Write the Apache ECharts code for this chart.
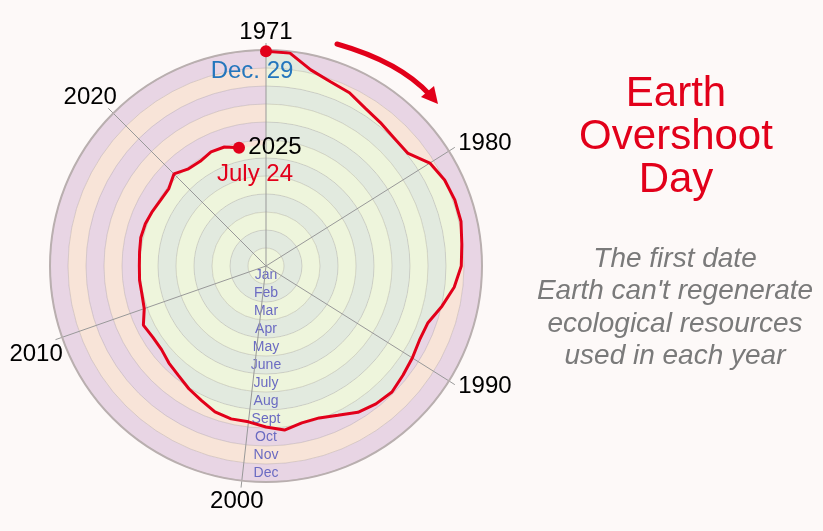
<!DOCTYPE html>
<html>
<head>
<meta charset="utf-8">
<script src="https://cdn.jsdelivr.net/npm/echarts@6/dist/echarts.min.js"></script>
<style>
html,body{margin:0;padding:0;background:#fdf9f8;}
#c{width:823px;height:531px;}
</style>
</head>
<body>
<div id="c"></div>
<script>
// ---- data ----
const years = [1971,1972,1973,1974,1975,1976,1977,1978,1979,1980,
  1981,1982,1983,1984,1985,1986,1987,1988,1989,1990,
  1991,1992,1993,1994,1995,1996,1997,1998,1999,2000,
  2001,2002,2003,2004,2005,2006,2007,2008,2009,2010,
  2011,2012,2013,2014,2015,2016,2017,2018,2019,2020,
  2021,2022,2023,2024,2025];
// overshoot day, as day of the year (1..365)
const overshootDay = [363,362,340,330,325,315,310,306,306,327,
  335,338,338,333,330,320,305,290,288,292,
  296,301,298,292,280,272,272,279,272,265,
  265,261,252,245,237,232,226,226,230,218,
  215,215,214,215,217,216,213,210,210,220,
  210,209,214,213,205];
const months = ['Jan','Feb','Mar','Apr','May','June','July','Aug','Sept','Oct','Nov','Dec'];
const yearTicks = [1971,1980,1990,2000,2010,2020];
const firstLabel = 'Dec. 29';
const lastLabel = 'July 24';
const yearEnd = 365;
const angleEnd = 2027;

// ---- layout / style ----
const CX = 266, CY = 266, R = 216;
const FONT = "'Liberation Sans', Arial, Helvetica, sans-serif";
const RED = '#e2001a';
const inA = '#eef5dc', inB = '#e2eadf';   // inside rings
const outA = '#f8e4d8', outB = '#e8d5e4'; // outside rings
// offsets of the year labels from the rim (pixels)
const yearLabelOffset = {1971: [0, -18], 1980: [36, -8], 1990: [36, 5.5], 2000: [-5, 21],
  2010: [-26, 17], 2020: [-23, -16]};

const stops = [];
for (let k = 0; k < 12; k++) {
  const c = k % 2 === 0 ? inA : inB;
  stops.push({offset: k / 12 + (k ? 0.0005 : 0), color: c});
  stops.push({offset: (k + 1) / 12, color: c});
}
const innerFill = {type: 'radial', x: CX, y: CY, r: R, colorStops: stops, global: true};

const lineData = years.map((y, i) => [overshootDay[i], y]);
const areaData = lineData.concat([[overshootDay[overshootDay.length - 1], angleEnd]]);
const n = years.length - 1;

const chart = echarts.init(document.getElementById('c'), null, {renderer: 'canvas'});
chart.setOption({
  backgroundColor: '#fdf9f8',
  animation: false,
  polar: [
    {center: [CX, CY], radius: R},
    {center: [CX, CY], radius: R}
  ],
  angleAxis: [
    {
      polarIndex: 0, type: 'value', min: years[0], max: angleEnd,
      startAngle: 90, clockwise: true, z: 5,
      axisLine: {show: true, lineStyle: {color: '#b9afaf', width: 2}},
      axisTick: {show: true, length: 7, customValues: yearTicks, lineStyle: {color: '#999', width: 1}},
      splitLine: {show: true, lineStyle: {color: '#999', width: 1}},
      axisLabel: {show: false, customValues: yearTicks}
    },
    {
      polarIndex: 1, type: 'value', min: 0, max: 360, startAngle: 270, show: false
    }
  ],
  radiusAxis: [
    {
      polarIndex: 0, type: 'value', min: 0, max: yearEnd, interval: yearEnd / 12, z: 0,
      axisLine: {show: false}, axisTick: {show: false}, axisLabel: {show: false},
      splitLine: {show: false},
      splitArea: {show: true, areaStyle: {color: [outA, outB]}}
    },
    {
      polarIndex: 1, type: 'category', data: months, z: 4,
      axisLine: {show: false}, axisTick: {show: false},
      splitLine: {show: true, interval: 0, lineStyle: {color: 'rgba(140,130,130,0.28)', width: 1}},
      axisLabel: {show: true, interval: 0, margin: 0, align: 'center', verticalAlign: 'middle',
        color: '#6b6bc2', fontSize: 14, fontFamily: FONT}
    }
  ],
  series: [
    {
      type: 'line', coordinateSystem: 'polar', polarIndex: 0, data: areaData,
      symbol: 'none', lineStyle: {width: 0}, areaStyle: {color: innerFill, opacity: 1},
      z: 2, silent: true
    },
    {
      type: 'line', coordinateSystem: 'polar', polarIndex: 0, data: lineData,
      symbol: 'none', lineStyle: {color: RED, width: 3}, z: 6, silent: true
    },
    {
      // year labels around the rim
      type: 'scatter', coordinateSystem: 'polar', polarIndex: 0, symbolSize: 0, z: 8, silent: true,
      itemStyle: {opacity: 1},
      data: yearTicks.map(y => ({value: [yearEnd, y], label: {offset: yearLabelOffset[y]}})),
      label: {show: true, position: 'inside', formatter: p => String(p.value[1]),
        color: '#000', fontSize: 24, fontFamily: FONT}
    },
    {
      type: 'scatter', coordinateSystem: 'polar', polarIndex: 0,
      data: [lineData[0]], symbolSize: 12, itemStyle: {color: RED, opacity: 1}, z: 7,
      label: {show: true, formatter: firstLabel, position: 'inside', offset: [-14, 20.5],
        color: '#2476bd', fontSize: 24, fontFamily: FONT}
    },
    {
      type: 'scatter', coordinateSystem: 'polar', polarIndex: 0,
      data: [lineData[n]], symbolSize: 12, itemStyle: {color: RED, opacity: 1}, z: 7,
      label: {show: true, formatter: String(years[n]), position: 'inside', offset: [36, 0],
        color: '#000', fontSize: 24, fontFamily: FONT}
    },
    {
      type: 'scatter', coordinateSystem: 'polar', polarIndex: 0,
      data: [lineData[n]], symbolSize: 0, itemStyle: {opacity: 1}, z: 7,
      label: {show: true, formatter: lastLabel, position: 'inside', offset: [16, 27],
        color: RED, fontSize: 24, fontFamily: FONT}
    }
  ],
  graphic: [
    {type: 'text', x: 676, y: 73, z: 10, style: {text: 'Earth\nOvershoot\nDay', fill: RED,
      font: '42px ' + FONT, lineHeight: 43, textAlign: 'center', textVerticalAlign: 'top'}},
    {type: 'text', x: 675, y: 243, z: 10, style: {text: "The first date\nEarth can't regenerate\necological resources\nused in each year",
      fill: '#7a7a7a', font: 'italic 28px ' + FONT, lineHeight: 32.3, textAlign: 'center', textVerticalAlign: 'top'}},
    {type: 'bezierCurve', z: 10, shape: {x1: 337, y1: 44, x2: 430, y2: 95, cpx1: 400, cpy1: 62},
      style: {stroke: RED, lineWidth: 5, fill: null, lineCap: 'round'}},
    {type: 'polygon', z: 10, shape: {points: [[438,104],[421,97],[434,86]]}, style: {fill: RED}}
  ]
});
</script>
</body>
</html>
